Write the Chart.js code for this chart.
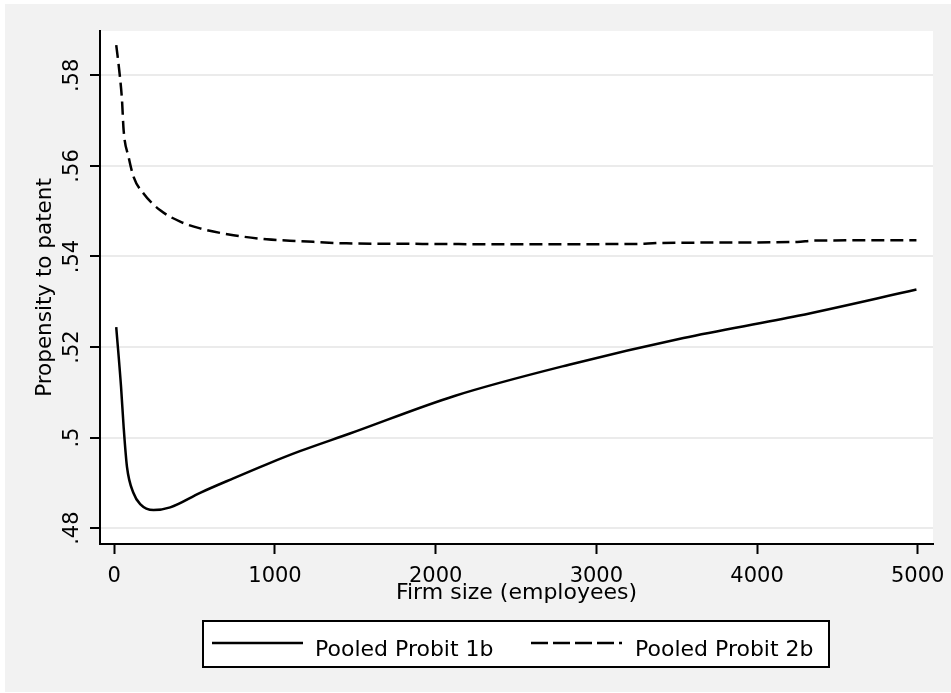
<!DOCTYPE html>
<html>
<head>
<meta charset="utf-8">
<title>Propensity to patent</title>
<script src="https://cdn.jsdelivr.net/npm/chart.js@4/dist/chart.umd.min.js"></script>
<style>
  html, body { margin: 0; padding: 0; background: #fff; }
  canvas { display: block; }
</style>
</head>
<body>
<canvas id="chart" width="951" height="693"></canvas>
<script>
// Firm size (employees) and predicted propensity
const firmSize1b = [12, 42, 58, 79, 120, 161, 244, 348, 534, 741, 948, 1155, 1466, 2117, 2830, 3542, 4255, 4992];
const probit1b = [0.5244, 0.5112, 0.5024, 0.4935, 0.4877, 0.4853, 0.4840, 0.4846, 0.4878, 0.4910, 0.4941, 0.4970, 0.5009, 0.5092, 0.5161, 0.5220, 0.5269, 0.5327];

const firmSize2b = [12, 33, 48, 58, 89, 120, 182, 286, 410, 534, 741, 948, 1155, 1445, 1800, 2500, 3300, 3400, 4250, 4350, 4992];
const probit2b = [0.5867, 0.5804, 0.5745, 0.5679, 0.5620, 0.5576, 0.5539, 0.5502, 0.5477, 0.5462, 0.5447, 0.5438, 0.5434, 0.5429, 0.5428, 0.5427, 0.5428, 0.5430, 0.5432, 0.5435, 0.5436];

const seriesLabels = ['Pooled Probit 1b', 'Pooled Probit 2b'];

const xTicks = [0, 1000, 2000, 3000, 4000, 5000];
const xTickLabels = ['0', '1000', '2000', '3000', '4000', '5000'];
const yTicks = [0.48, 0.50, 0.52, 0.54, 0.56, 0.58];
const yTickLabels = ['.48', '.5', '.52', '.54', '.56', '.58'];

const tickFont = { family: 'DejaVu Sans', size: 21 };
const xTitleFont = { family: 'DejaVu Sans', size: 22 };
const yTitleFont = { family: 'DejaVu Sans', size: 21.5 };

function toPoints(xs, ys) {
    return xs.map((x, i) => ({ x: x, y: ys[i] }));
}

// gray page, white plot region
const backgroundPlugin = {
    id: 'stataBackground',
    beforeDraw(chart) {
        const ctx = chart.ctx;
        const a = chart.chartArea;
        ctx.save();
        ctx.fillStyle = '#ffffff';
        ctx.fillRect(0, 0, chart.width, chart.height);
        ctx.fillStyle = '#f2f2f2';
        ctx.fillRect(5, 4, chart.width - 5, chart.height - 5);
        ctx.fillStyle = '#ffffff';
        ctx.fillRect(a.left, a.top, a.right - a.left, a.bottom - a.top);
        ctx.restore();
    }
};

// boxed legend under the axis title
const legendPlugin = {
    id: 'stataLegend',
    afterDraw(chart) {
        const ctx = chart.ctx;
        const slots = [{ x: 212, tx: 315 }, { x: 531, tx: 635 }];
        ctx.save();
        ctx.fillStyle = '#ffffff';
        ctx.fillRect(203, 621, 626, 46);
        ctx.strokeStyle = '#000000';
        ctx.lineWidth = 2;
        ctx.strokeRect(203, 621, 626, 46);
        chart.data.datasets.forEach((ds, i) => {
            ctx.setLineDash(ds.borderDash ? [17, 5] : []);
            ctx.lineWidth = ds.borderWidth;
            ctx.strokeStyle = ds.borderColor;
            ctx.beginPath();
            ctx.moveTo(slots[i].x, 643);
            ctx.lineTo(slots[i].x + 91, 643);
            ctx.stroke();
            ctx.setLineDash([]);
            ctx.fillStyle = '#000000';
            ctx.font = '22px "DejaVu Sans"';
            ctx.textBaseline = 'alphabetic';
            ctx.fillText(ds.label, slots[i].tx, 656);
        });
        ctx.restore();
    }
};

new Chart(document.getElementById('chart'), {
    type: 'line',
    data: {
        datasets: [
            {
                label: seriesLabels[0],
                data: toPoints(firmSize1b, probit1b),
                borderColor: '#000000',
                borderWidth: 2.5,
                pointRadius: 0,
                cubicInterpolationMode: 'monotone',
                fill: false
            },
            {
                label: seriesLabels[1],
                data: toPoints(firmSize2b, probit2b),
                borderColor: '#000000',
                borderWidth: 2.5,
                borderDash: [13, 6],
                pointRadius: 0,
                cubicInterpolationMode: 'monotone',
                fill: false
            }
        ]
    },
    options: {
        responsive: false,
        animation: false,
        devicePixelRatio: 1,
        layout: { padding: { top: 31, right: 18, bottom: 89, left: 0 } },
        plugins: {
            legend: { display: false },
            tooltip: { enabled: false }
        },
        scales: {
            x: {
                type: 'linear',
                min: -89,
                max: 5095,
                afterFit: s => { s.height = 60; s.paddingLeft = 0; s.paddingRight = 0; },
                afterBuildTicks: s => { s.ticks = xTicks.map(v => ({ value: v })); },
                ticks: {
                    color: '#000000',
                    font: tickFont,
                    padding: 10,
                    maxRotation: 0,
                    autoSkip: false,
                    callback: (v, i) => xTickLabels[i]
                },
                grid: {
                    drawOnChartArea: false,
                    tickColor: '#000000',
                    tickWidth: 2,
                    tickLength: 10
                },
                border: { color: '#000000', width: 2 },
                title: {
                    display: true,
                    text: 'Firm size (employees)',
                    color: '#000000',
                    font: xTitleFont,
                    padding: { top: 0, bottom: -2 }
                }
            },
            y: {
                type: 'linear',
                min: 0.4765,
                max: 0.5898,
                afterFit: s => { s.width = 100; },
                afterBuildTicks: s => { s.ticks = yTicks.map(v => ({ value: v })); },
                ticks: {
                    color: '#000000',
                    font: tickFont,
                    padding: 1,
                    minRotation: 90,
                    maxRotation: 90,
                    crossAlign: 'center',
                    autoSkip: false,
                    callback: (v, i) => yTickLabels[i]
                },
                grid: {
                    color: '#ebebeb',
                    lineWidth: 2,
                    tickColor: '#000000',
                    tickWidth: 2,
                    tickLength: 10
                },
                border: { color: '#000000', width: 2 },
                title: {
                    display: true,
                    text: 'Propensity to patent',
                    color: '#000000',
                    font: yTitleFont,
                    padding: { top: 33, bottom: 0 }
                }
            }
        }
    },
    plugins: [backgroundPlugin, legendPlugin]
});
</script>
</body>
</html>
